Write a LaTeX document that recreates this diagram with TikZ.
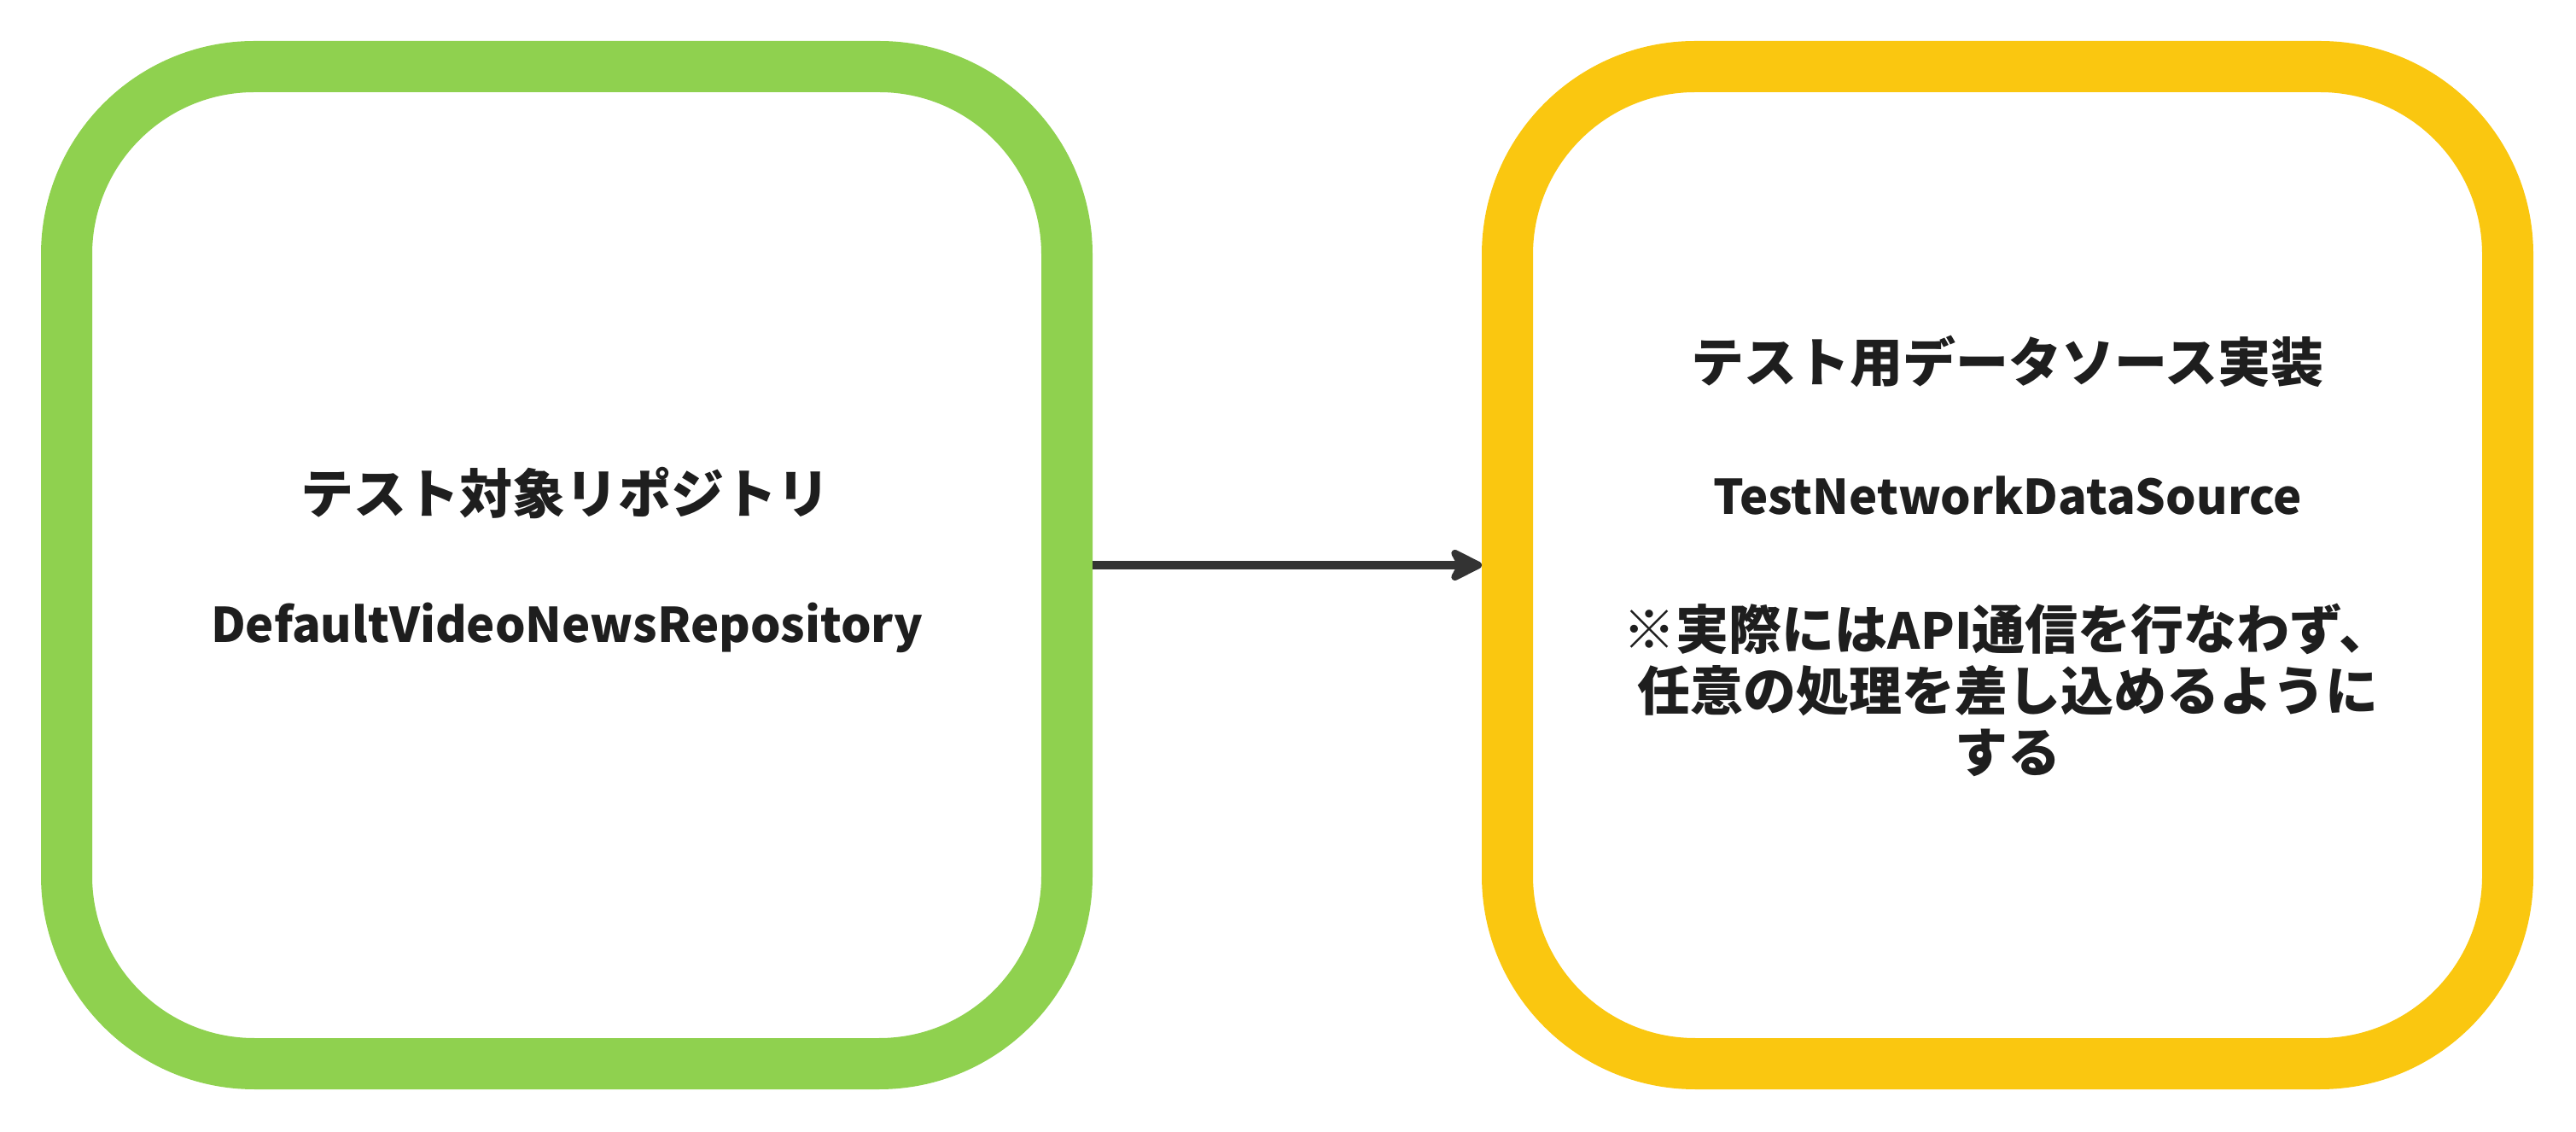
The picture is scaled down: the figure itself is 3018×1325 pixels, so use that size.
\documentclass[tikz,border=0pt]{standalone}
\usepackage{fontspec}
\setmainfont{Noto Sans CJK JP}
\usetikzlibrary{arrows.meta}
\definecolor{boxgreen}{HTML}{8FD14F}
\definecolor{boxyellow}{HTML}{FAC710}
\definecolor{arrowgray}{HTML}{333333}
\definecolor{txt}{HTML}{1E1E1E}
\tikzset{
  bigbox/.style={draw=#1, fill=white, line width=60pt, rounded corners=220pt,
    minimum width=1172pt, minimum height=1168pt, inner sep=0pt},
  label/.style={text=txt, font=\bfseries\fontsize{62}{72}\selectfont, inner sep=0pt, align=center},
  latin/.style={label, font=\bfseries\fontsize{56}{72}\selectfont},
  link/.style={draw=arrowgray, line width=10pt,
    -{Stealth[length=46pt, width=46pt, inset=12pt, round]}}
}
\begin{document}
\begin{tikzpicture}[x=1pt,y=1pt]
\useasboundingbox (0,0) rectangle (3018,1325);
\node[bigbox=boxgreen] (left) at (664,663) {};
\node[bigbox=boxyellow] (right) at (2352,663) {};
\draw[link] (left.east) -- (right.west);
\node[label] (ltitle) at (662,747) {テスト対象リポジトリ};
\node[latin] (lname) at (664,590) {DefaultVideoNewsRepository};
\node[label] (rtitle) at (2352,902) {テスト用データソース実装};
\node[latin] (rname) at (2352,744) {TestNetworkDataSource};
\node[label] (rnote) at (2352,517) {※実際には{\fontsize{58}{72}\selectfont API}通信を行なわず、\\任意の処理を差し込めるように\\する};
\end{tikzpicture}
\end{document}
